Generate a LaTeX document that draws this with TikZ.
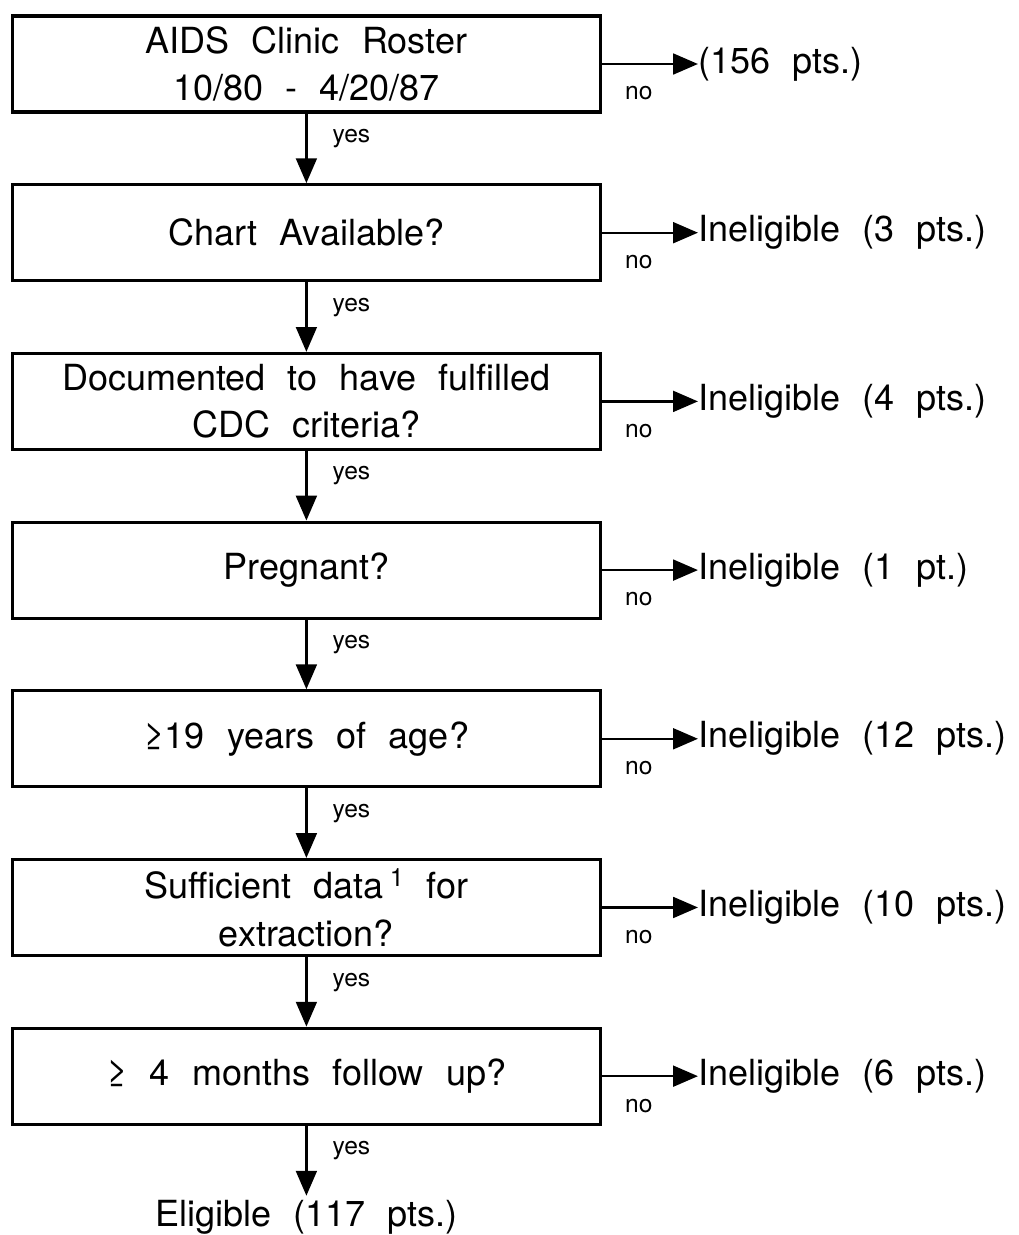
\documentclass[tikz,border=0pt]{standalone}
\usepackage{fontspec}
\setmainfont{TeX Gyre Heros}
\usetikzlibrary{arrows.meta, positioning}
\newcommand{\stagefont}{\fontsize{25.6}{33.5}\selectfont\spaceskip=0.62em plus 0.1em\relax}
\newcommand{\tagfont}{\fontsize{17.5}{20}\selectfont}
\tikzset{
    stage/.style={
        rectangle,
        draw=black,
        line width=2.2pt,
        minimum width=14.7cm,
        minimum height=2.4cm,
        align=center,
        font=\stagefont
    },
    result/.style={
        inner sep=0pt,
        font=\stagefont
    },
    arrow/.style={
        -{Triangle[length=6.2mm,width=5.2mm]},
        line width=1.7pt
    },
    tag/.style={
        font=\tagfont,
        inner sep=1pt
    }
}
\begin{document}
\begin{tikzpicture}[node distance=1.74cm and 2.4cm]
            \useasboundingbox (0,0) rectangle (25.45,-30.875);
            \node[stage] at (7.66,-1.6) (roster) {AIDS Clinic Roster\\10/80 - 4/20/87};
            \node[stage, below=of roster] (chart)    {Chart Available?};
            \node[stage, below=of chart]  (cdc)      {Documented to have fulfilled\\CDC criteria?};
            \node[stage, below=of cdc]    (preg)     {Pregnant?};
            \node[stage, below=of preg]   (age)      {≥19 years of age?};
            \node[stage, below=of age]    (data)     {Sufficient data\,\textsuperscript{1} for\\extraction?};
            \node[stage, below=of data]   (followup) {≥ 4 months follow up?};
            \node[result, inner sep=1.1mm, below=1.75cm of followup] (elig) {Eligible (117 pts.)};

            % exits to the right
            \node[result, right=of roster]   (out1) {(156 pts.)};
            \node[result, right=of chart]    (out2) {Ineligible (3 pts.)};
            \node[result, right=of cdc]      (out3) {Ineligible (4 pts.)};
            \node[result, right=of preg]     (out4) {Ineligible (1 pt.)};
            \node[result, right=of age]      (out5) {Ineligible (12 pts.)};
            \node[result, right=of data]     (out6) {Ineligible (10 pts.)};
            \node[result, right=of followup] (out7) {Ineligible (6 pts.)};

            \draw[arrow] (roster)   -- node[tag, pos=0.36, right=5.9mm] {yes} (chart);
            \draw[arrow] (chart)    -- node[tag, pos=0.36, right=5.9mm] {yes} (cdc);
            \draw[arrow] (cdc)      -- node[tag, pos=0.36, right=5.9mm] {yes} (preg);
            \draw[arrow] (preg)     -- node[tag, pos=0.36, right=5.9mm] {yes} (age);
            \draw[arrow] (age)      -- node[tag, pos=0.36, right=5.9mm] {yes} (data);
            \draw[arrow] (data)     -- node[tag, pos=0.36, right=5.9mm] {yes} (followup);
            \draw[arrow] (followup) -- node[tag, pos=0.36, right=5.9mm] {yes} (elig);

            \draw[arrow] (roster.east)   -- node[tag, pos=0.385, below=5mm] {no} (roster.east -| out1.west);
            \draw[arrow] (chart.east)    -- node[tag, pos=0.385, below=5mm] {no} (chart.east -| out2.west);
            \draw[arrow] (cdc.east)      -- node[tag, pos=0.385, below=5mm] {no} (cdc.east -| out3.west);
            \draw[arrow] (preg.east)     -- node[tag, pos=0.385, below=5mm] {no} (preg.east -| out4.west);
            \draw[arrow] (age.east)      -- node[tag, pos=0.385, below=5mm] {no} (age.east -| out5.west);
            \draw[arrow] (data.east)     -- node[tag, pos=0.385, below=5mm] {no} (data.east -| out6.west);
            \draw[arrow] (followup.east) -- node[tag, pos=0.385, below=5mm] {no} (followup.east -| out7.west);
        \end{tikzpicture}
\end{document}
